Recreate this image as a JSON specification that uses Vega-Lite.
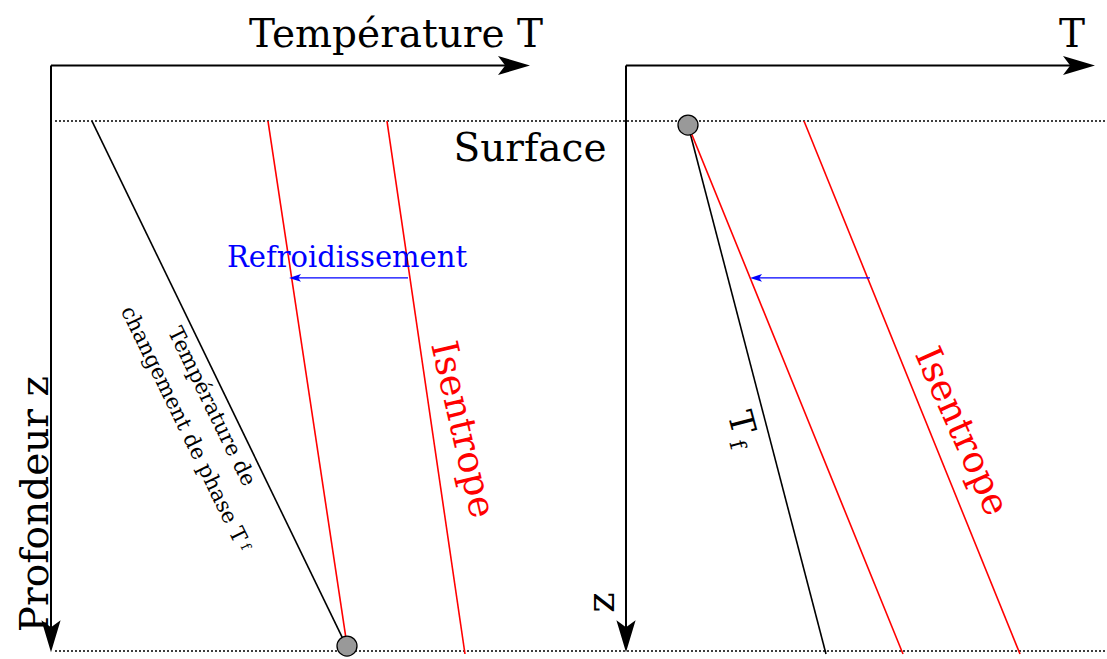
{
  "$schema": "https://vega.github.io/schema/vega-lite/v6.json",
  "width": 1107,
  "height": 659,
  "autosize": {"type": "fit", "contains": "padding"},
  "padding": 0,
  "background": "white",
  "view": {"stroke": null},
  "config": {"text": {"font": "DejaVu Serif"}},
  "datasets": {
    "segments": [
      {"x": 51, "y": 66, "x2": 510, "y2": 66, "role": "axe"},
      {"x": 51, "y": 66, "x2": 51, "y2": 640, "role": "axe"},
      {"x": 626, "y": 66, "x2": 1080, "y2": 66, "role": "axe"},
      {"x": 626, "y": 66, "x2": 626, "y2": 640, "role": "axe"},
      {"x": 55, "y": 122, "x2": 1106, "y2": 122, "role": "niveau"},
      {"x": 55, "y": 656, "x2": 1106, "y2": 656, "role": "niveau"},
      {"x": 92, "y": 122, "x2": 345, "y2": 648, "role": "fusion"},
      {"x": 688, "y": 126, "x2": 826, "y2": 659, "role": "fusion"},
      {"x": 268, "y": 122, "x2": 347, "y2": 650, "role": "isentrope"},
      {"x": 387, "y": 122, "x2": 465, "y2": 659, "role": "isentrope"},
      {"x": 688, "y": 126, "x2": 903, "y2": 659, "role": "isentrope"},
      {"x": 804, "y": 122, "x2": 1020, "y2": 659, "role": "isentrope"},
      {"x": 408, "y": 280, "x2": 295, "y2": 280, "role": "refroid"},
      {"x": 870, "y": 280, "x2": 756, "y2": 280, "role": "refroid"}
    ],
    "heads": [
      {"x": 514, "y": 66, "dir": "droite"},
      {"x": 1079, "y": 66, "dir": "droite"},
      {"x": 51, "y": 641, "dir": "bas"},
      {"x": 626, "y": 641, "dir": "bas"},
      {"x": 295, "y": 280, "dir": "gauche"},
      {"x": 756, "y": 280, "dir": "gauche"}
    ],
    "points": [
      {"x": 347, "y": 651},
      {"x": 688, "y": 126}
    ],
    "labels": [
      {"x": 396, "y": 47, "label": "Température T", "style": "grand"},
      {"x": 1072, "y": 47, "label": "T", "style": "grand"},
      {"x": 530, "y": 162, "label": "Surface", "style": "grand"},
      {"x": 347, "y": 269, "label": "Refroidissement", "style": "bleu"},
      {"x": 48, "y": 508, "label": "Profondeur z", "style": "vertical"},
      {"x": 614, "y": 607, "label": "z", "style": "vertical"},
      {"x": 462, "y": 433, "label": "Isentrope", "style": "iso1"},
      {"x": 961, "y": 435, "label": "Isentrope", "style": "iso2"},
      {"x": 211, "y": 410, "label": "Température de", "style": "phase"},
      {"x": 183, "y": 428, "label": "changement de phase T", "style": "phase"},
      {"x": 245, "y": 551, "label": "f", "style": "phasesub"},
      {"x": 740, "y": 426, "label": "T", "style": "tf"},
      {"x": 737, "y": 448, "label": "f", "style": "tfsub"}
    ]
  },
  "encoding": {
    "x": {"field": "x", "type": "quantitative", "scale": {"domain": [0, 1107], "nice": false, "zero": false}, "axis": null},
    "y": {"field": "y", "type": "quantitative", "scale": {"domain": [0, 659], "nice": false, "zero": false, "reverse": true}, "axis": null}
  },
  "layer": [
    {
      "data": {"name": "segments"},
      "transform": [{"filter": "datum.role === 'niveau'"}],
      "mark": {"type": "rule", "color": "black", "strokeWidth": 1.5, "strokeDash": [2, 2]},
      "encoding": {"x2": {"field": "x2"}, "y2": {"field": "y2"}}
    },
    {
      "data": {"name": "segments"},
      "transform": [{"filter": "datum.role === 'axe'"}],
      "mark": {"type": "rule", "color": "black", "strokeWidth": 2},
      "encoding": {"x2": {"field": "x2"}, "y2": {"field": "y2"}}
    },
    {
      "data": {"name": "segments"},
      "transform": [{"filter": "datum.role === 'fusion'"}],
      "mark": {"type": "rule", "color": "black", "strokeWidth": 1.6},
      "encoding": {"x2": {"field": "x2"}, "y2": {"field": "y2"}}
    },
    {
      "data": {"name": "segments"},
      "transform": [{"filter": "datum.role === 'isentrope'"}],
      "mark": {"type": "rule", "color": "#ff0000", "strokeWidth": 1.6},
      "encoding": {"x2": {"field": "x2"}, "y2": {"field": "y2"}}
    },
    {
      "data": {"name": "segments"},
      "transform": [{"filter": "datum.role === 'refroid'"}],
      "mark": {"type": "rule", "color": "#0000ff", "strokeWidth": 1.1},
      "encoding": {"x2": {"field": "x2"}, "y2": {"field": "y2"}}
    },
    {
      "data": {"name": "heads"},
      "transform": [{"filter": "datum.dir === 'droite'"}],
      "mark": {"type": "point", "filled": true, "color": "black", "opacity": 1, "strokeWidth": 0, "size": 1024, "shape": "M1,0 L-1,-0.6 L-0.55,0 L-1,0.6 Z"}
    },
    {
      "data": {"name": "heads"},
      "transform": [{"filter": "datum.dir === 'bas'"}],
      "mark": {"type": "point", "filled": true, "color": "black", "opacity": 1, "strokeWidth": 0, "size": 1024, "shape": "M0,1 L-0.6,-1 L0,-0.55 L0.6,-1 Z"}
    },
    {
      "data": {"name": "heads"},
      "transform": [{"filter": "datum.dir === 'gauche'"}],
      "mark": {"type": "point", "filled": true, "color": "#0000ff", "opacity": 1, "strokeWidth": 0, "size": 144, "shape": "M-1,0 L1,-0.65 L0.55,0 L1,0.65 Z"}
    },
    {
      "data": {"name": "points"},
      "mark": {"type": "point", "shape": "circle", "filled": true, "fill": "#999999", "stroke": "black", "strokeWidth": 1.3, "opacity": 1, "size": 400}
    },
    {
      "data": {"name": "labels"},
      "transform": [{"filter": "datum.style === 'grand'"}],
      "mark": {"type": "text", "fontSize": 39, "align": "center", "baseline": "alphabetic", "color": "black"},
      "encoding": {"text": {"field": "label"}}
    },
    {
      "data": {"name": "labels"},
      "transform": [{"filter": "datum.style === 'vertical'"}],
      "mark": {"type": "text", "fontSize": 39, "align": "center", "baseline": "alphabetic", "angle": 270, "color": "black"},
      "encoding": {"text": {"field": "label"}}
    },
    {
      "data": {"name": "labels"},
      "transform": [{"filter": "datum.style === 'bleu'"}],
      "mark": {"type": "text", "fontSize": 29, "align": "center", "baseline": "alphabetic", "color": "#0000ff"},
      "encoding": {"text": {"field": "label"}}
    },
    {
      "data": {"name": "labels"},
      "transform": [{"filter": "datum.style === 'iso1'"}],
      "mark": {"type": "text", "fontSize": 37, "align": "center", "baseline": "middle", "angle": 77, "color": "#ff0000"},
      "encoding": {"text": {"field": "label"}}
    },
    {
      "data": {"name": "labels"},
      "transform": [{"filter": "datum.style === 'iso2'"}],
      "mark": {"type": "text", "fontSize": 37, "align": "center", "baseline": "middle", "angle": 66, "color": "#ff0000"},
      "encoding": {"text": {"field": "label"}}
    },
    {
      "data": {"name": "labels"},
      "transform": [{"filter": "datum.style === 'phase'"}],
      "mark": {"type": "text", "fontSize": 21.5, "align": "center", "baseline": "middle", "angle": 64, "color": "black"},
      "encoding": {"text": {"field": "label"}}
    },
    {
      "data": {"name": "labels"},
      "transform": [{"filter": "datum.style === 'phasesub'"}],
      "mark": {"type": "text", "fontSize": 14, "align": "center", "baseline": "middle", "angle": 64, "color": "black"},
      "encoding": {"text": {"field": "label"}}
    },
    {
      "data": {"name": "labels"},
      "transform": [{"filter": "datum.style === 'tf'"}],
      "mark": {"type": "text", "fontSize": 34, "align": "center", "baseline": "middle", "angle": 75, "color": "black"},
      "encoding": {"text": {"field": "label"}}
    },
    {
      "data": {"name": "labels"},
      "transform": [{"filter": "datum.style === 'tfsub'"}],
      "mark": {"type": "text", "fontSize": 22, "align": "center", "baseline": "middle", "angle": 75, "color": "black"},
      "encoding": {"text": {"field": "label"}}
    }
  ]
}
